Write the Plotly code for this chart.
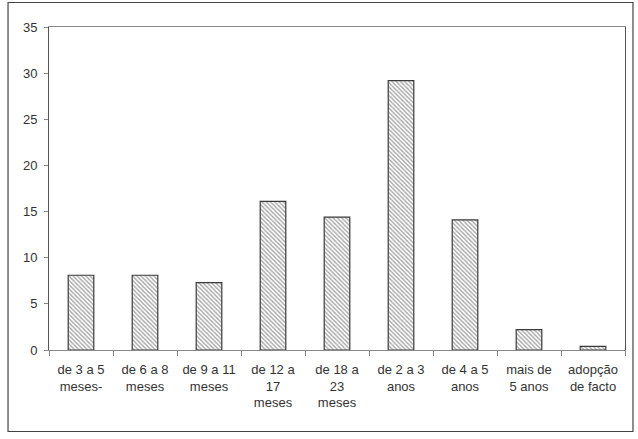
import plotly.graph_objects as go

categories = ["de 3 a 5<br>meses-", "de 6 a 8<br>meses", "de 9 a 11<br>meses",
              "de 12 a<br>17<br>meses", "de 18 a<br>23<br>meses", "de 2 a 3<br>anos",
              "de 4 a 5<br>anos", "mais de<br>5 anos", "adopção<br>de facto"]
values = [8.1, 8.1, 7.3, 16.1, 14.4, 29.2, 14.1, 2.2, 0.4]
y_ticks = [0, 5, 10, 15, 20, 25, 30, 35]

W, H = 638, 439
L, R, T, B = 49, 625.5, 27, 350

fig = go.Figure(go.Bar(
    x=categories, y=values, width=0.4,
    marker=dict(color="white",
                line=dict(color="#3a3a3a", width=1.2),
                pattern=dict(shape="\\", fgcolor="#4a4a4a", bgcolor="white",
                             size=3, solidity=0.45)),
))

def px_x(p):
    return (p - L) / (R - L)

def px_y(p):
    return (B - p) / (B - T)

fig.add_shape(type="rect", xref="paper", yref="paper",
              x0=px_x(8), x1=px_x(633.5), y0=px_y(431.5), y1=px_y(2.5),
              line=dict(color="#444444", width=1.2), layer="below")

fig.update_layout(
    width=W, height=H,
    margin=dict(l=L, r=W - R, t=T, b=H - B, autoexpand=False),
    paper_bgcolor="white", plot_bgcolor="white",
    font=dict(family="Liberation Sans, Arial, sans-serif", size=13, color="#333333"),
    showlegend=False,
    bargap=0.6,
)
fig.update_xaxes(showline=True, linecolor="#888888", linewidth=1, mirror=True,
                 ticks="outside", ticklen=5, tickcolor="#888888",
                 tickson="boundaries", showgrid=False, tickangle=0, automargin=False,
                 ticklabelstandoff=7,
                 tickfont=dict(size=13, color="#333333"))
fig.update_yaxes(range=[0, 35], tickvals=y_ticks, showgrid=False, automargin=False,
                 showline=True, linecolor="#555555", linewidth=1, mirror=True,
                 ticks="outside", ticklen=4, tickcolor="#888888",
                 ticklabelstandoff=4,
                 zeroline=False, tickfont=dict(size=13, color="#333333"))

fig.write_html("out.html", config={"displayModeBar": False},
               post_script="document.body.style.margin='0';document.body.style.overflow='hidden';")
